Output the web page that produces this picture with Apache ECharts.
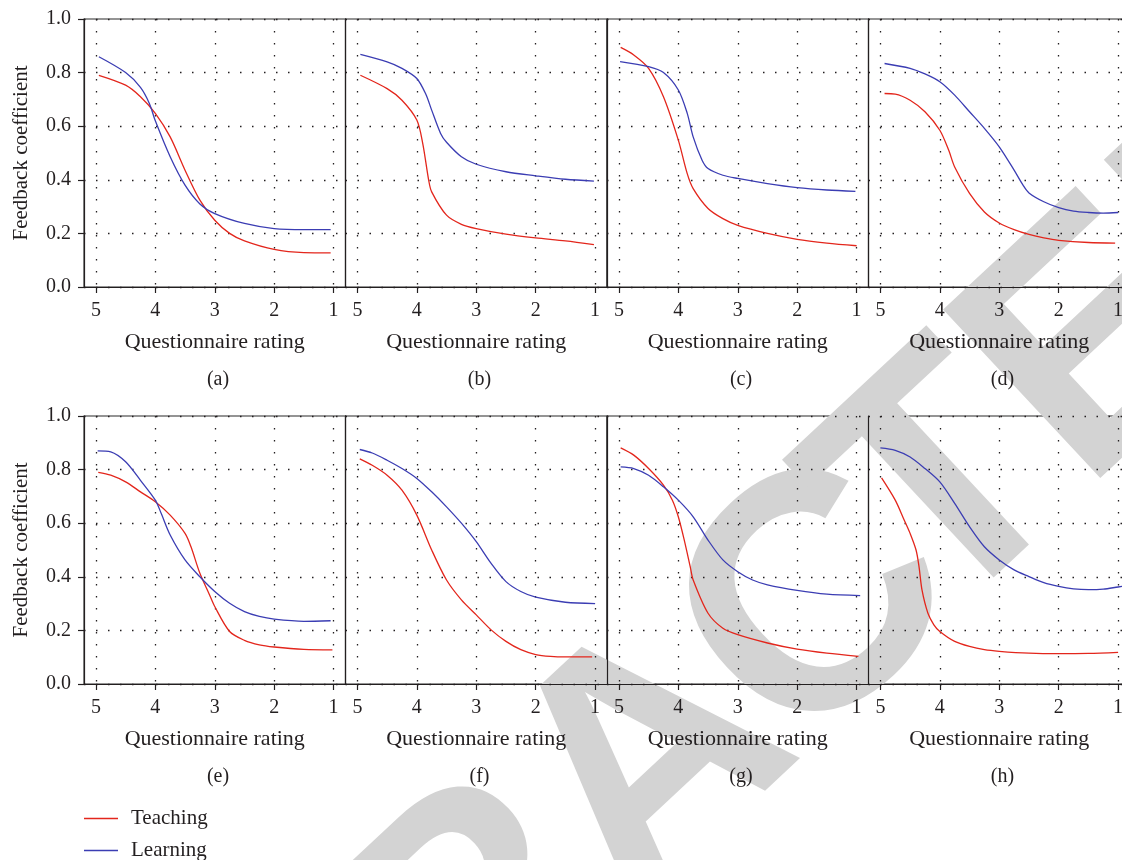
<!DOCTYPE html>
<html>
<head>
<meta charset="utf-8">
<script src="https://cdn.jsdelivr.net/npm/echarts@6/dist/echarts.min.js"></script>
<style>
html,body{margin:0;padding:0;background:#fff;}
#chart{width:1122px;height:860px;}
</style>
</head>
<body>
<div id="chart"></div>
<script>
// ---- Data (x = questionnaire rating, y = feedback coefficient) ----
const xTicks = [1, 2, 3, 4, 5];
const panelLabels = ['(a)', '(b)', '(c)', '(d)', '(e)', '(f)', '(g)', '(h)'];
const seriesNames = ['Teaching', 'Learning'];

const teachA = [[4.95,0.79],[4.5,0.753],[4.25,0.71],[4,0.648],[3.75,0.56],[3.5,0.436],[3.25,0.324],[3,0.249],[2.75,0.2],[2.5,0.172],[2,0.14],[1.5,0.128],[1.05,0.127]];
const learnA = [[4.95,0.859],[4.5,0.8],[4.25,0.745],[4.1,0.685],[4,0.62],[3.75,0.486],[3.5,0.38],[3.25,0.31],[3,0.274],[2.5,0.237],[2,0.218],[1.5,0.214],[1.05,0.214]];

const teachB = [[4.95,0.79],[4.5,0.74],[4.25,0.697],[4,0.623],[3.9,0.535],[3.8,0.398],[3.75,0.355],[3.5,0.268],[3.25,0.234],[3,0.218],[2.5,0.197],[2,0.183],[1.5,0.172],[1.02,0.158]];
const learnB = [[4.95,0.868],[4.5,0.84],[4.25,0.816],[4,0.778],[3.85,0.72],[3.75,0.66],[3.6,0.573],[3.5,0.54],[3.25,0.486],[3,0.458],[2.5,0.43],[2,0.415],[1.5,0.402],[1.02,0.395]];

const teachC = [[4.97,0.894],[4.75,0.866],[4.5,0.816],[4.25,0.71],[4,0.548],[3.85,0.423],[3.75,0.367],[3.5,0.293],[3.25,0.255],[3,0.23],[2.5,0.2],[2,0.178],[1.5,0.164],[1,0.154]];
const learnC = [[4.98,0.841],[4.5,0.822],[4.25,0.8],[4,0.735],[3.85,0.648],[3.75,0.56],[3.6,0.473],[3.5,0.442],[3.25,0.417],[3,0.405],[2.5,0.386],[2,0.371],[1.5,0.362],[1.02,0.357]];

const teachD = [[4.93,0.722],[4.75,0.72],[4.5,0.697],[4.25,0.654],[4,0.585],[3.85,0.51],[3.75,0.448],[3.5,0.349],[3.25,0.28],[3,0.239],[2.75,0.214],[2.5,0.196],[2.25,0.183],[2,0.174],[1.5,0.166],[1.05,0.164]];
const learnD = [[4.93,0.834],[4.5,0.816],[4.25,0.795],[4,0.766],[3.75,0.716],[3.5,0.654],[3.25,0.592],[3,0.523],[2.75,0.436],[2.6,0.38],[2.5,0.351],[2.25,0.318],[2,0.296],[1.75,0.283],[1.5,0.278],[1.25,0.276],[1,0.278]];

const teachE = [[4.96,0.79],[4.75,0.779],[4.5,0.754],[4.25,0.717],[4,0.68],[3.75,0.63],[3.5,0.562],[3.4,0.512],[3.25,0.413],[3.1,0.339],[3,0.289],[2.75,0.196],[2.5,0.163],[2.25,0.146],[2,0.138],[1.5,0.129],[1.02,0.127]];
const learnE = [[4.97,0.87],[4.75,0.866],[4.5,0.829],[4.25,0.76],[4,0.686],[3.9,0.636],[3.75,0.556],[3.5,0.463],[3.25,0.4],[3,0.345],[2.75,0.301],[2.5,0.27],[2.25,0.252],[2,0.242],[1.5,0.234],[1.05,0.236]];

const teachF = [[4.96,0.84],[4.75,0.816],[4.5,0.779],[4.25,0.723],[4,0.63],[3.75,0.5],[3.5,0.388],[3.25,0.314],[3,0.258],[2.75,0.202],[2.5,0.159],[2.25,0.128],[2,0.11],[1.75,0.103],[1.5,0.101],[1.05,0.101]];
const learnF = [[4.96,0.875],[4.75,0.862],[4.5,0.835],[4.25,0.804],[4,0.767],[3.75,0.717],[3.5,0.661],[3.25,0.6],[3,0.531],[2.75,0.45],[2.5,0.382],[2.25,0.345],[2,0.324],[1.5,0.305],[1,0.3]];

const teachG = [[4.97,0.881],[4.75,0.854],[4.5,0.804],[4.25,0.742],[4.1,0.686],[4,0.624],[3.9,0.537],[3.8,0.438],[3.75,0.388],[3.5,0.264],[3.25,0.208],[3,0.184],[2.5,0.153],[2,0.13],[1.5,0.115],[0.97,0.103]];
const learnG = [[4.97,0.81],[4.75,0.804],[4.5,0.779],[4.25,0.736],[4,0.686],[3.75,0.624],[3.5,0.537],[3.25,0.463],[3,0.419],[2.75,0.388],[2.5,0.37],[2,0.349],[1.5,0.335],[0.94,0.33]];

const teachH = [[4.98,0.769],[4.75,0.686],[4.6,0.612],[4.5,0.562],[4.4,0.5],[4.35,0.438],[4.3,0.351],[4.2,0.264],[4.1,0.221],[4,0.196],[3.75,0.159],[3.5,0.14],[3.25,0.128],[3,0.122],[2.5,0.115],[2,0.113],[1.5,0.114],[1,0.118]];
const learnH = [[5,0.881],[4.75,0.872],[4.5,0.847],[4.25,0.804],[4,0.754],[3.75,0.674],[3.5,0.587],[3.25,0.512],[3,0.463],[2.75,0.426],[2.5,0.401],[2.25,0.378],[2,0.364],[1.75,0.355],[1.5,0.352],[1.25,0.354],[1,0.362],[0.8,0.368]];

const teachingData = [teachA, teachB, teachC, teachD, teachE, teachF, teachG, teachH];
const learningData = [learnA, learnB, learnC, learnD, learnE, learnF, learnG, learnH];

// watermark word (letters placed along the rotated baseline)
const stampLetters = ['R', 'E', 'T', 'R', 'A', 'C', 'T', 'E', 'D'];

// ---- Layout / style ----
const RED = '#e3261c';
const BLUE = '#3b3db3';
const INK = '#231f20';
const FONT = '"Liberation Serif", "DejaVu Serif", serif';
const colLeft = [84, 345.5, 607, 868.5];
const rowTop = [19, 416];
const gW = 261.5, gH = 268;

const grids = [], xAxes = [], yAxes = [], series = [], titles = [];
for (let i = 0; i < 8; i++) {
  const r = Math.floor(i / 4), c = i % 4;
  grids.push({left: colLeft[c], top: rowTop[r], width: gW, height: gH,
    outerBoundsMode: 'none', containLabel: false,
    show: true, borderColor: '#2a2a2a', borderWidth: 1.1, backgroundColor: 'transparent'});
  xAxes.push({
    gridIndex: i, type: 'value', min: 0.8, max: 5.2, inverse: true,
    name: 'Questionnaire rating', nameLocation: 'middle', nameGap: 44,
    nameTextStyle: {fontFamily: FONT, fontSize: 22, color: INK},
    axisLine: {show: true, onZero: false, lineStyle: {color: INK, width: 1.2}},
    axisTick: {show: true, inside: false, length: 6, customValues: xTicks, lineStyle: {color: INK, width: 1.2}},
    axisLabel: {show: true, customValues: xTicks, margin: 14, fontFamily: FONT, fontSize: 20, color: INK},
    splitLine: {show: true, lineStyle: {color: INK, width: 1.3, type: [1.5, 10.5]}}
  });
  yAxes.push({
    gridIndex: i, type: 'value', min: 0, max: 1, interval: 0.2,
    name: c === 0 ? 'Feedback coefficient' : '', nameLocation: 'middle', nameGap: 52, nameRotate: 90,
    nameTextStyle: {fontFamily: FONT, fontSize: 21, color: INK},
    axisLine: {show: true, lineStyle: {color: INK, width: 1.2}},
    axisTick: {show: c === 0, length: 6, lineStyle: {color: INK, width: 1.2}},
    axisLabel: {show: c === 0, margin: 13, fontFamily: FONT, fontSize: 20, color: INK,
      formatter: v => v.toFixed(1)},
    splitLine: {show: true, lineStyle: {color: INK, width: 1.3, type: [1.5, 10.5]}}
  });
  titles.push({text: panelLabels[i], left: colLeft[c] + 129, top: rowTop[r] + 346,
    textAlign: 'center', textStyle: {fontFamily: FONT, fontSize: 20, fontWeight: 'normal', color: INK}});
  series.push({name: seriesNames[0], type: 'line', xAxisIndex: i, yAxisIndex: i, data: teachingData[i],
    smooth: 0.3, symbol: 'none', lineStyle: {color: RED, width: 1.3}, itemStyle: {color: RED}, z: 3});
  series.push({name: seriesNames[1], type: 'line', xAxisIndex: i, yAxisIndex: i, data: learningData[i],
    smooth: 0.3, symbol: 'none', lineStyle: {color: BLUE, width: 1.3}, itemStyle: {color: BLUE}, z: 3});
}

const legendCommon = {orient: 'vertical', left: 79, itemWidth: 34, itemHeight: 14, itemGap: 10,
  icon: 'path://M0,6 L34,6 L34,7.4 L0,7.4 Z',
  textStyle: {fontFamily: FONT, fontSize: 21, color: INK, padding: [0, 0, 0, 8]}};

// watermark: letter offsets along the slanted baseline (px)
const stampOffsets = [-898, -669, -458, -238, 0, 228, 401, 612, 841];
const stampChildren = stampLetters.map((ch, k) => ({
  type: 'text', x: stampOffsets[k], y: 0, silent: true,
  style: {text: ch, font: 'bold 335px "Liberation Sans", Arial, sans-serif',
    fill: '#d3d3d3', textAlign: 'center', textVerticalAlign: 'middle'}
}));

const chart = echarts.init(document.getElementById('chart'), null, {renderer: 'canvas'});
chart.setOption({
  animation: false,
  backgroundColor: '#ffffff',
  title: titles,
  grid: grids,
  xAxis: xAxes,
  yAxis: yAxes,
  legend: [
    Object.assign({}, legendCommon, {data: [seriesNames[0]], top: 803}),
    Object.assign({}, legendCommon, {data: [seriesNames[1]], top: 835})
  ],
  graphic: [{
    type: 'group', z: -10, silent: true,
    x: 655, y: 767, rotation: 43 * Math.PI / 180,
    children: stampChildren
  }],
  series: series
});
</script>
</body>
</html>
